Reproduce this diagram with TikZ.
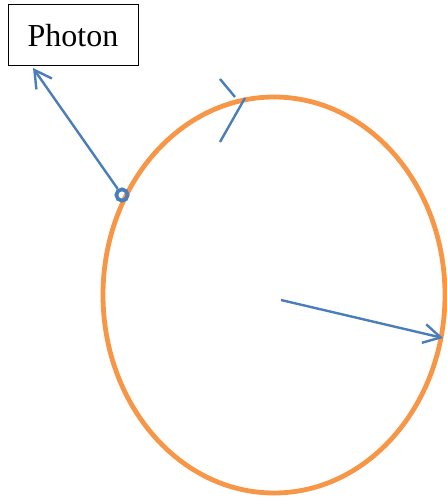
\documentclass[tikz,border=0pt]{standalone}
\usepackage{fontspec}
\setmainfont{Liberation Serif}
\usetikzlibrary{arrows.meta}
\definecolor{ringorange}{RGB}{247,150,70}
\definecolor{lineblue}{RGB}{74,126,187}

\begin{document}
\begin{tikzpicture}[x=0.75pt,y=-0.75pt,>={Straight Barb[length=12.75pt,width=14.25pt]}]
  \useasboundingbox (0,0) rectangle (446,498);
  \draw[ringorange,line width=3.6pt] (274,295) ellipse [x radius=171, y radius=198];
  \node[draw,line width=0.75pt,minimum width=97.5pt,minimum height=45.75pt,inner sep=0pt,font=\fontsize{24}{28}\selectfont] (photon) at (73,35.5) {Photon};
  \node[circle,draw=lineblue,line width=2.8pt,minimum size=8.5pt,inner sep=0pt] (emit) at (122,195) {};
  \coordinate (tip) at (33,68);
  \coordinate (centre) at (281,300);
  \coordinate (rim) at (443,338);
  \draw[->,lineblue,line width=1.8pt] (emit) -- (tip);
  \draw[->,lineblue,line width=1.8pt] (centre) -- (rim);
  % tick marks at the top of the ring
  \draw[lineblue,line width=1.8pt] (220,79) -- (235,97);
  \draw[lineblue,line width=1.8pt] (245,98) -- (220,142);
\end{tikzpicture}
\end{document}
